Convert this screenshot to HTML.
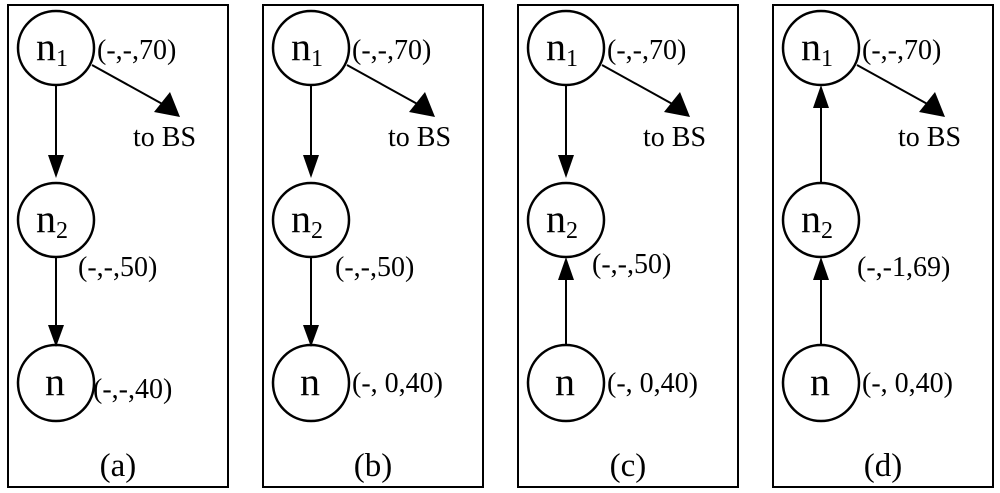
<!DOCTYPE html>
<html><head><style>body{margin:0;background:#fff}svg{display:block}text{font-family:"Liberation Serif",serif;fill:#000}</style></head><body>
<svg width="1000" height="493" viewBox="0 0 1000 493" xmlns="http://www.w3.org/2000/svg">
<defs>
<g id="base">
<rect x="0" y="5" width="220" height="482" fill="none" stroke="#000" stroke-width="2"/>
<ellipse cx="48" cy="48" rx="38" ry="37" fill="none" stroke="#000" stroke-width="2.5"/>
<ellipse cx="48" cy="220" rx="38" ry="37" fill="none" stroke="#000" stroke-width="2.5"/>
<ellipse cx="48" cy="383" rx="38" ry="38" fill="none" stroke="#000" stroke-width="2.5"/>
<text x="28" y="60" font-size="40">n<tspan font-size="24" dy="6">1</tspan></text>
<text x="28" y="232" font-size="40">n<tspan font-size="24" dy="6">2</tspan></text>
<text x="37" y="395" font-size="40">n</text>
<line x1="84" y1="65" x2="158" y2="106" stroke="#000" stroke-width="2"/>
<polygon points="172,117 146,112 162,92" fill="#000"/>
<text x="125" y="146" font-size="28">to BS</text>
<text x="89" y="59" font-size="28">(-,-,70)</text>
</g>
<g id="down">
<line x1="48" y1="85" x2="48" y2="158" stroke="#000" stroke-width="2"/>
<polygon points="40,155 56,155 48,178" fill="#000"/>
<line x1="48" y1="257" x2="48" y2="326" stroke="#000" stroke-width="2"/>
<polygon points="40,325 56,325 48,347" fill="#000"/>
</g>
</defs>
<g transform="translate(8,0)"><use href="#base"/><use href="#down"/>
<text x="70" y="276" font-size="28">(-,-,50)</text>
<text x="85" y="398" font-size="28">(-,-,40)</text>
<text x="110" y="476" font-size="33" text-anchor="middle">(a)</text></g>
<g transform="translate(263,0)"><use href="#base"/><use href="#down"/>
<text x="72" y="276" font-size="28">(-,-,50)</text>
<text x="89" y="392" font-size="28">(-, 0,40)</text>
<text x="110" y="476" font-size="33" text-anchor="middle">(b)</text></g>
<g transform="translate(518,0)"><use href="#base"/>
<line x1="48" y1="85" x2="48" y2="158" stroke="#000" stroke-width="2"/>
<polygon points="40,155 56,155 48,178" fill="#000"/>
<line x1="48" y1="345" x2="48" y2="278" stroke="#000" stroke-width="2"/>
<polygon points="40,280 56,280 48,257" fill="#000"/>
<text x="74" y="273" font-size="28">(-,-,50)</text>
<text x="89" y="392" font-size="28">(-, 0,40)</text>
<text x="110" y="476" font-size="33" text-anchor="middle">(c)</text></g>
<g transform="translate(773,0)"><use href="#base"/>
<line x1="48" y1="183" x2="48" y2="106" stroke="#000" stroke-width="2"/>
<polygon points="40,108 56,108 48,85" fill="#000"/>
<line x1="48" y1="345" x2="48" y2="278" stroke="#000" stroke-width="2"/>
<polygon points="40,280 56,280 48,257" fill="#000"/>
<text x="84" y="276" font-size="28">(-,-1,69)</text>
<text x="89" y="392" font-size="28">(-, 0,40)</text>
<text x="110" y="476" font-size="33" text-anchor="middle">(d)</text></g>
</svg>
</body></html>
